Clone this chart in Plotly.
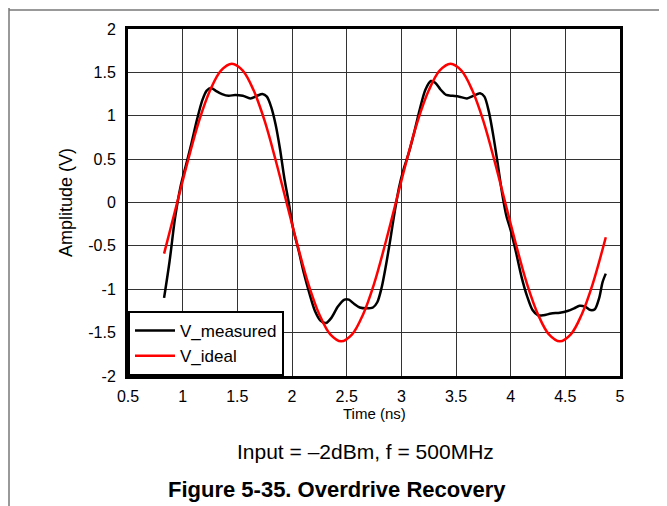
import plotly.graph_objects as go

# measured waveform (ns, V)
t_measured = [0.83, 0.88, 0.93, 0.98, 1.03, 1.08, 1.13, 1.18, 1.22, 1.26, 1.30, 1.36, 1.42, 1.48,
              1.55, 1.62, 1.68, 1.73, 1.77, 1.81, 1.85, 1.89, 1.93, 1.97, 2.01, 2.06, 2.11, 2.16,
              2.21, 2.26, 2.31, 2.36, 2.42, 2.48, 2.52, 2.57, 2.62, 2.68, 2.74, 2.78, 2.82, 2.86,
              2.90, 2.94, 2.98, 3.02, 3.07, 3.12, 3.17, 3.22, 3.27, 3.31, 3.36, 3.41, 3.47, 3.53,
              3.60, 3.66, 3.72, 3.76, 3.80, 3.84, 3.88, 3.92, 3.96, 4.00, 4.05, 4.10, 4.15, 4.20,
              4.25, 4.30, 4.37, 4.45, 4.52, 4.58, 4.63, 4.68, 4.73, 4.77, 4.81, 4.84, 4.87]
v_measured = [-1.10, -0.68, -0.18, 0.18, 0.43, 0.68, 0.95, 1.18, 1.29, 1.32, 1.29, 1.25, 1.23, 1.24,
              1.23, 1.20, 1.23, 1.25, 1.22, 1.10, 0.90, 0.62, 0.28, 0.00, -0.30, -0.55, -0.82, -1.05,
              -1.25, -1.36, -1.39, -1.33, -1.20, -1.12, -1.12, -1.17, -1.21, -1.22, -1.21, -1.15, -0.98, -0.72,
              -0.42, -0.10, 0.18, 0.38, 0.58, 0.82, 1.08, 1.30, 1.40, 1.38, 1.30, 1.24, 1.23, 1.22,
              1.20, 1.23, 1.26, 1.22, 1.05, 0.78, 0.46, 0.12, -0.15, -0.32, -0.58, -0.86, -1.08, -1.24,
              -1.30, -1.30, -1.28, -1.27, -1.25, -1.22, -1.19, -1.20, -1.24, -1.23, -1.10, -0.92, -0.82]

# ideal waveform
t_ideal = [0.83, 0.95, 1.05, 1.15, 1.25, 1.35, 1.45, 1.55, 1.65, 1.75, 1.85, 1.95, 2.05, 2.15,
           2.25, 2.35, 2.45, 2.55, 2.65, 2.75, 2.85, 2.95, 3.05, 3.15, 3.25, 3.35, 3.45, 3.55,
           3.65, 3.75, 3.85, 3.95, 4.05, 4.15, 4.25, 4.35, 4.45, 4.55, 4.65, 4.75, 4.87]
v_ideal = [-0.59, 0.0, 0.49, 0.94, 1.29, 1.52, 1.60, 1.52, 1.29, 0.94, 0.49, 0.0, -0.49, -0.94,
           -1.29, -1.52, -1.60, -1.52, -1.29, -0.94, -0.49, 0.0, 0.49, 0.94, 1.29, 1.52, 1.60, 1.52,
           1.29, 0.94, 0.49, 0.0, -0.49, -0.94, -1.29, -1.52, -1.60, -1.52, -1.29, -0.94, -0.40]

x_ticks = [0.5, 1, 1.5, 2, 2.5, 3, 3.5, 4, 4.5, 5]
x_ticktext = ['0.5', '1', '1.5', '2', '2.5', '3', '3.5', '4', '4.5', '5']
y_ticks = [-2, -1.5, -1, -0.5, 0, 0.5, 1, 1.5, 2]
y_ticktext = ['-2', '-1.5', '-1', '-0.5', '0', '0.5', '1', '1.5', '2']

FONT = 'Liberation Sans, Arial, sans-serif'

# plot area in page pixels (the page body adds an 8px margin)
PL, PR, PT, PB = 128, 620, 29, 376
PW, PH = PR - PL, PB - PT


def px(x):
    return (x - PL) / PW


def py(y):
    return (PB - y) / PH


fig = go.Figure()
fig.add_trace(go.Scatter(x=t_measured, y=v_measured, mode='lines', name='V_measured',
                         line=dict(color='black', width=2.5, shape='spline', smoothing=0.8)))
fig.add_trace(go.Scatter(x=t_ideal, y=v_ideal, mode='lines', name='V_ideal',
                         line=dict(color='#ff0000', width=2.5, shape='spline', smoothing=1.0)))

fig.update_xaxes(range=[0.5, 5], tickvals=x_ticks, ticktext=x_ticktext, showgrid=True,
                 gridcolor='#333333', gridwidth=1, showline=True, linewidth=3, linecolor='black',
                 mirror=True, ticks='', zeroline=False, ticklabelstandoff=4,
                 tickfont=dict(family=FONT, size=16, color='black'))
fig.update_yaxes(range=[-2, 2], tickvals=y_ticks, ticktext=y_ticktext, showgrid=True,
                 gridcolor='#333333', gridwidth=1, showline=True, linewidth=3, linecolor='black',
                 mirror=True, ticks='', zeroline=False, ticklabelstandoff=6,
                 tickfont=dict(family=FONT, size=16, color='black'))

fig.update_layout(
    width=659, height=498,
    margin=dict(l=PL - 8, r=667 - PR, t=PT - 8, b=506 - PB),
    plot_bgcolor='white', paper_bgcolor='white',
    font=dict(family=FONT, color='black'),
    showlegend=True,
    legend=dict(x=0, y=0, xanchor='left', yanchor='bottom', bgcolor='white',
                bordercolor='black', borderwidth=2, font=dict(size=17),
                tracegroupgap=0, itemwidth=40),
    annotations=[
        dict(text='Time (ns)', x=px(374), y=py(413), xref='paper', yref='paper', showarrow=False,
             xanchor='center', yanchor='middle', font=dict(size=15)),
        dict(text='Amplitude (V)', x=px(66), y=py(203), xref='paper', yref='paper', showarrow=False,
             textangle=-90, xanchor='center', yanchor='middle', font=dict(size=18)),
        dict(text='Input = \u20132dBm, f = 500MHz', x=px(365), y=py(451),
             xref='paper', yref='paper', showarrow=False, xanchor='center', yanchor='middle',
             font=dict(size=21)),
        dict(text='<b>Figure 5-35. Overdrive Recovery</b>', x=px(337), y=py(489),
             xref='paper', yref='paper', showarrow=False, xanchor='center', yanchor='middle',
             font=dict(size=22)),
    ],
    shapes=[
        dict(type='line', xref='paper', yref='paper', x0=px(9), x1=px(9),
             y0=py(0), y1=py(506), line=dict(color='#777777', width=1.5)),
        dict(type='line', xref='paper', yref='paper', x0=px(9), x1=px(667),
             y0=py(10), y1=py(10), line=dict(color='#777777', width=1.5)),
    ],
)

fig.write_html("out.html")
